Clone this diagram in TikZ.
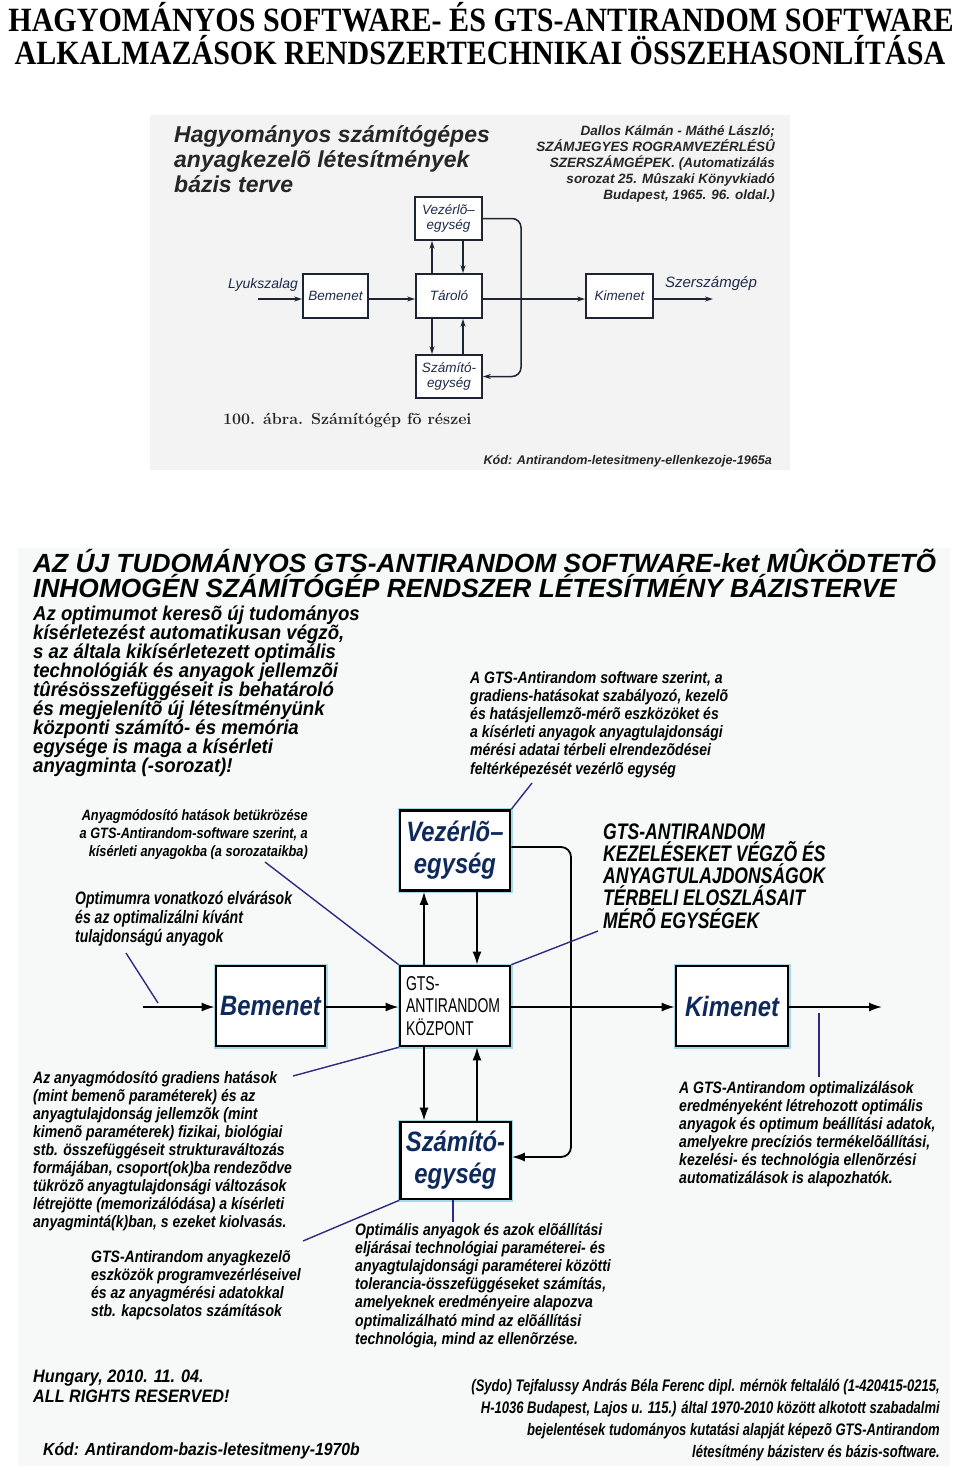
\documentclass[tikz,border=0pt]{standalone}
\usepackage{fontspec}
\usetikzlibrary{arrows.meta}
\newfontfamily\fN{Liberation Sans}
\newfontfamily\fA[FakeStretch=0.93]{Liberation Sans}
\newfontfamily\fF[FakeStretch=0.9]{Liberation Sans}
\newfontfamily\fB[FakeStretch=0.85]{Liberation Sans}
\newfontfamily\fC[FakeStretch=0.78]{Liberation Sans}
\newfontfamily\fD[FakeStretch=0.7]{Liberation Sans}
\newfontfamily\fT[FakeStretch=0.884]{Liberation Serif}
\newcommand\fsz[2]{\fontsize{#1}{#2}\selectfont}
\definecolor{ink}{HTML}{1E2433}
\definecolor{tinkl}{HTML}{1D2A4A}
\definecolor{navy}{HTML}{0E2A5C}
\definecolor{leadc}{HTML}{2B2B80}
\definecolor{paperA}{HTML}{F3F3F3}
\definecolor{paperB}{HTML}{F7F9F9}
\definecolor{halo}{HTML}{A8D8E4}
\tikzset{
  txt/.style={inner sep=0pt, anchor=base west, align=left},
  txtr/.style={inner sep=0pt, anchor=base east, align=right},
  tbox/.style={draw=ink, line width=1.8pt, fill=white, inner sep=0pt,
    minimum width=66pt, minimum height=43pt, font=\fN\itshape\fsz{13.5}{15},
    text=tinkl, align=center},
  tlabel/.style={inner sep=0pt, font=\fN\itshape\fsz{14}{16}, text=tinkl},
  tarr/.style={draw=ink, line width=1.5pt, -{Stealth[length=8pt,width=5pt]}},
  bbox/.style={draw=black, line width=2.6pt, fill=white, inner sep=0pt,
    preaction={draw=halo, line width=5pt},
    minimum width=110pt, minimum height=80pt,
    font=\fB\bfseries\itshape\fsz{28}{32}, text=navy, align=center},
  barr/.style={draw=black, line width=1.8pt, -{Latex[length=13pt,width=9pt]}},
  lead/.style={draw=leadc, line width=1.4pt},
}
\begin{document}
\begin{tikzpicture}[x=1pt,y=-1pt]
\useasboundingbox (0,0) rectangle (960,1470);
\fill[white] (0,0) rectangle (960,1470);

% ---------- title ----------
\node[inner sep=0pt, anchor=base, font=\fT\bfseries\fsz{34}{34}] (title1) at (481,31)
  {HAGYOMÁNYOS SOFTWARE- ÉS GTS-ANTIRANDOM SOFTWARE};
\node[inner sep=0pt, anchor=base, font=\fT\bfseries\fsz{34}{34}] (title2) at (480,64)
  {ALKALMAZÁSOK RENDSZERTECHNIKAI ÖSSZEHASONLÍTÁSA};

% ---------- top panel ----------
\fill[paperA] (150,115) rectangle (790,470);
% (multi-line nodes: base anchor = baseline of the last line)
\node[txt, font=\fN\bfseries\itshape\fsz{23}{25}, text=black!85] (thead) at (174,192)
  {Hagyományos számítógépes\\anyagkezelõ létesítmények\\bázis terve};
\node[txtr, font=\fN\bfseries\itshape\fsz{13.5}{16}, text=black!85] (tcite) at (775,199)
  {Dallos Kálmán - Máthé László;\\SZÁMJEGYES ROGRAMVEZÉRLÉSÛ\\SZERSZÁMGÉPEK. (Automatizálás\\sorozat 25. Mûszaki Könyvkiadó\\Budapest, 1965. 96. oldal.)};

\node[tbox, minimum width=67pt] (tvez) at (448.5,218.5) {Vezérlõ–\\egység};
\node[tbox, minimum height=44pt] (ttar) at (449,296) {Tároló};
\node[tbox] (tszam) at (449,376.5) {Számító-\\egység};
\node[tbox, minimum width=65pt, minimum height=44pt] (tbem) at (335.5,296) {Bemenet};
\node[tbox, minimum width=67pt, minimum height=44pt] (tkim) at (619.5,296) {Kimenet};
\node[tlabel] (tlyuk) at (263,285) {Lyukszalag};
\node[tlabel, font=\fN\itshape\fsz{15}{16}] (tszer) at (711,284) {Szerszámgép};

\coordinate (tin) at (258,299);
\coordinate (tout) at (713,299);
\coordinate (txL) at (432,0);
\coordinate (txR) at (463,0);
\coordinate (tl1) at (521,218.5);
\coordinate (tl2) at (521,376.5);

\draw[tarr] (tin) -- (tbem.west |- tin);
\draw[tarr] (tbem.east |- tin) -- (ttar.west |- tin);
\draw[tarr] (ttar.east |- tin) -- (tkim.west |- tin);
\draw[tarr] (tkim.east |- tin) -- (tout);
\draw[tarr] (ttar.north -| txL) -- (tvez.south -| txL);
\draw[tarr] (tvez.south -| txR) -- (ttar.north -| txR);
\draw[tarr] (ttar.south -| txL) -- (tszam.north -| txL);
\draw[tarr] (tszam.north -| txR) -- (ttar.south -| txR);
\draw[tarr, rounded corners=9pt] (tvez.east) -- (tl1) -- (tl2) -- (tszam.east);

\node[txt, font=\bfseries\fsz{16}{17}\addfontfeatures{LetterSpace=8}, text=black!85] (tcap) at (223,424)
  {100. ábra. Számítógép fõ részei};
\node[txtr, font=\fN\bfseries\itshape\fsz{12.6}{14}, text=black!85] (tkod) at (772,464)
  {Kód: Antirandom-letesitmeny-ellenkezoje-1965a};

% ---------- bottom panel ----------
\fill[paperB] (18,548) rectangle (950,1466);
\node[txt, font=\fN\bfseries\itshape\fsz{26.3}{21}] (bhead) at (33,597)
  {AZ ÚJ TUDOMÁNYOS GTS-ANTIRANDOM SOFTWARE-ket MÛKÖDTETÕ\\INHOMOGÉN SZÁMÍTÓGÉP RENDSZER LÉTESÍTMÉNY BÁZISTERVE};
\node[txt, font=\fA\bfseries\itshape\fsz{20}{19.1}] (bleft) at (33,772.8)
  {Az optimumot keresõ új tudományos\\kísérletezést automatikusan végzõ,\\s az általa kikísérletezett optimális\\technológiák és anyagok jellemzõi\\tûrésösszefüggéseit is behatároló\\és megjelenítõ új létesítményünk\\központi számító- és memória\\egysége is maga a kísérleti\\anyagminta (-sorozat)!};
\node[txt, font=\fB\bfseries\itshape\fsz{16.5}{18.2}] (bgrad) at (470,774)
  {A GTS-Antirandom software szerint, a\\gradiens-hatásokat szabályozó, kezelõ\\és hatásjellemzõ-mérõ eszközöket és\\a kísérleti anyagok anyagtulajdonsági\\mérési adatai térbeli elrendezõdései\\feltérképezését vezérlõ egység};
\node[txtr, font=\fB\bfseries\itshape\fsz{15}{18.3}] (bbetuk) at (308,856.6)
  {Anyagmódosító hatások betükrözése\\a GTS-Antirandom-software szerint, a\\kísérleti anyagokba (a sorozataikba)};
\node[txt, font=\fC\bfseries\itshape\fsz{22.5}{22.3}] (bmero) at (603,928.2)
  {GTS-ANTIRANDOM\\KEZELÉSEKET VÉGZÕ ÉS\\ANYAGTULAJDONSÁGOK\\TÉRBELI ELOSZLÁSAIT\\MÉRÕ EGYSÉGEK};
\node[txt, font=\fC\bfseries\itshape\fsz{18}{19}] (bopt) at (75,942)
  {Optimumra vonatkozó elvárások\\és az optimalizálni kívánt\\tulajdonságú anyagok};

\node[bbox] (vez) at (455,850.5) {Vezérlõ–\\egység};
\node[bbox, font=\fD\fsz{20}{22.5}, text=black, align=left, text width=98pt] (gts) at (455,1006)
  {GTS-\\ANTIRANDOM\\KÖZPONT};
\node[bbox, minimum width=109pt] (bem) at (270.5,1006) {Bemenet};
\node[bbox, minimum width=112pt] (kim) at (732,1006) {Kimenet};
\node[bbox, minimum height=77pt] (szam) at (455.5,1160.5) {Számító-\\egység};

\coordinate (bin) at (143,1007);
\coordinate (bout) at (882,1007);
\coordinate (bxL) at (424,0);
\coordinate (bxR) at (477,0);
\coordinate (bl1) at (571,847);
\coordinate (bl2) at (571,1157);

\draw[barr] (bin) -- (bem.west |- bin);
\draw[barr] (bem.east |- bin) -- (gts.west |- bin);
\draw[barr] (gts.east |- bin) -- (kim.west |- bin);
\draw[barr] (kim.east |- bin) -- (bout);
\draw[barr] (gts.north -| bxL) -- (vez.south -| bxL);
\draw[barr] (vez.south -| bxR) -- (gts.north -| bxR);
\draw[barr] (gts.south -| bxL) -- (szam.north -| bxL);
\draw[barr] (szam.north -| bxR) -- (gts.south -| bxR);
\draw[barr, rounded corners=10pt] (vez.east |- bl1) -- (bl1) -- (bl2) -- (szam.east |- bl2);

\node[txt, font=\fB\bfseries\itshape\fsz{16.5}{18}] (bgradh) at (33,1227)
  {Az anyagmódosító gradiens hatások\\(mint bemenõ paraméterek) és az\\anyagtulajdonság jellemzõk (mint\\kimenõ paraméterek) fizikai, biológiai\\stb. összefüggéseit strukturaváltozás\\formájában, csoport(ok)ba rendezõdve\\tükrözõ anyagtulajdonsági változások\\létrejötte (memorizálódása) a kísérleti\\anyagmintá(k)ban, s ezeket kiolvasás.};
\node[txt, font=\fB\bfseries\itshape\fsz{16.5}{18}] (bkezel) at (91,1316)
  {GTS-Antirandom anyagkezelõ\\eszközök programvezérléseivel\\és az anyagmérési adatokkal\\stb. kapcsolatos számítások};
\node[txt, font=\fB\bfseries\itshape\fsz{16.5}{18.2}] (boptim) at (355,1344.2)
  {Optimális anyagok és azok elõállítási\\eljárásai technológiai paraméterei- és\\anyagtulajdonsági paraméterei közötti\\tolerancia-összefüggéseket számítás,\\amelyeknek eredményeire alapozva\\optimalizálható mind az elõállítási\\technológia, mind az ellenõrzése.};
\node[txt, font=\fB\bfseries\itshape\fsz{16.5}{18}] (beredm) at (679,1183)
  {A GTS-Antirandom optimalizálások\\eredményeként létrehozott optimális\\anyagok és optimum beállítási adatok,\\amelyekre precíziós termékelõállítási,\\kezelési- és technológia ellenõrzési\\automatizálások is alapozhatók.};

% leader lines
\coordinate (c1) at (532,783);
\coordinate (c2) at (265,862);
\coordinate (c3) at (126,953);
\coordinate (c4) at (158,1003);
\coordinate (c5) at (598,931);
\coordinate (c6) at (293,1076);
\coordinate (c7) at (303,1241);
\coordinate (c8) at (453,1222);
\coordinate (c9) at (819,1013);
\coordinate (c10) at (819,1077);
\draw[lead] (c1) -- (vez.north east);
\draw[lead] (c2) -- (gts.north west);
\draw[lead] (c3) -- (c4);
\draw[lead] (gts.north east) -- (c5);
\draw[lead] (gts.south west) -- (c6);
\draw[lead] (szam.south west) -- (c7);
\draw[lead] (szam.south -| c8) -- (c8);
\draw[lead] (c9) -- (c10);

% footer
\node[txt, font=\fF\bfseries\itshape\fsz{18}{20}] (fhun) at (33,1402)
  {Hungary, 2010. 11. 04.\\ALL RIGHTS RESERVED!};
\node[txt, font=\fF\bfseries\itshape\fsz{17.5}{20}] (fkod) at (43,1455)
  {Kód: Antirandom-bazis-letesitmeny-1970b};
\node[txtr, font=\fC\bfseries\itshape\fsz{16.7}{22}] (fsydo) at (940,1457)
  {(Sydo) Tejfalussy András Béla Ferenc dipl. mérnök feltaláló (1-420415-0215,\\H-1036 Budapest, Lajos u. 115.) által 1970-2010 között alkotott szabadalmi\\bejelentések tudományos kutatási alapját képezõ GTS-Antirandom\\létesítmény bázisterv és bázis-software.};
\end{tikzpicture}
\end{document}
